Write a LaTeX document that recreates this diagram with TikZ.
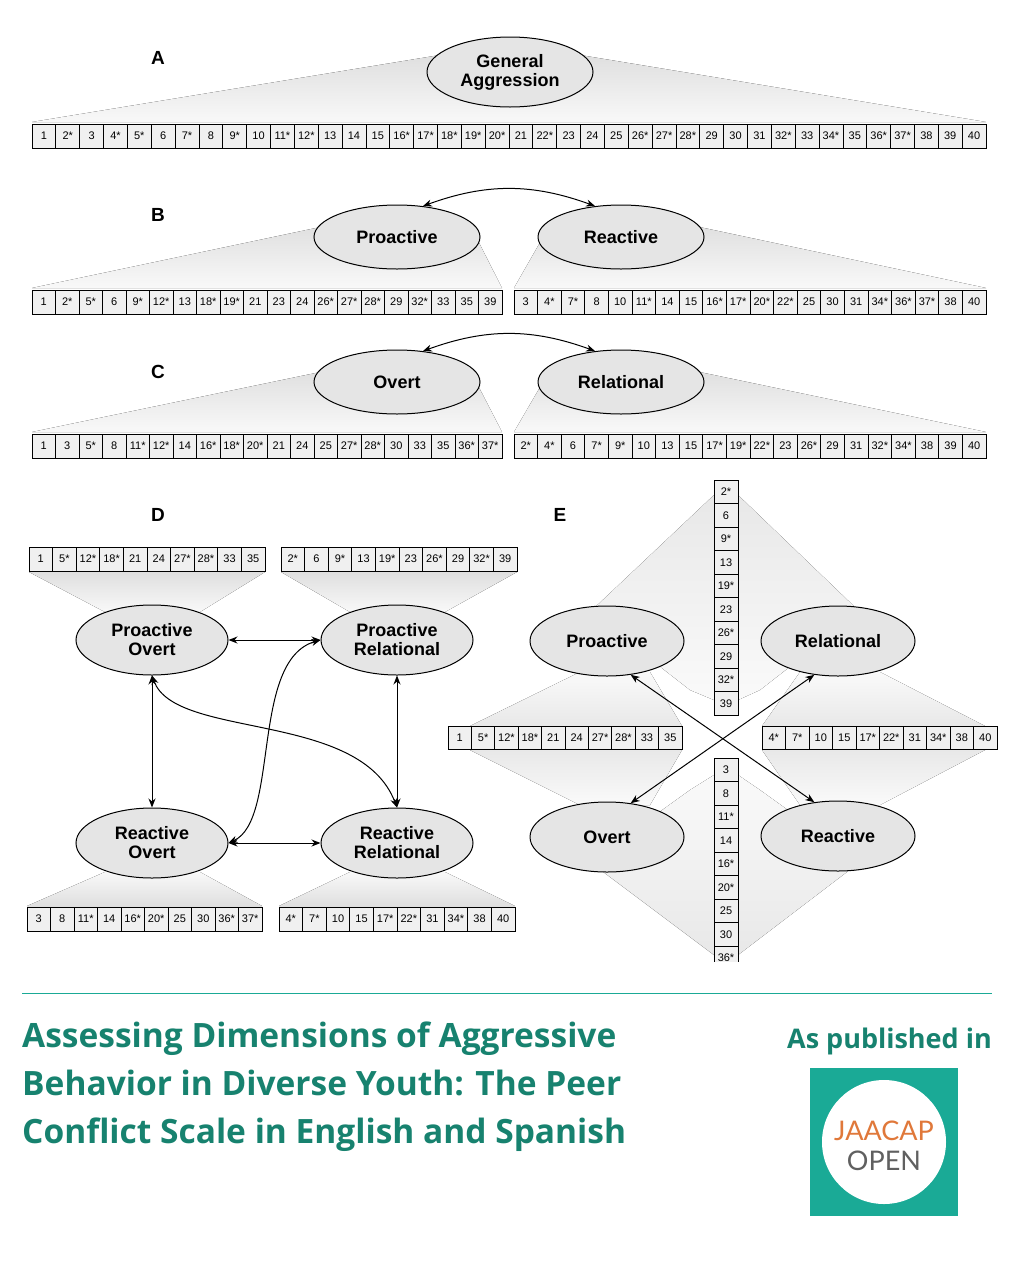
\documentclass[tikz,border=0pt]{standalone}
\usepackage{fontspec}
\setmainfont{Liberation Sans}
\newfontfamily\osb{Open Sans}
\newfontfamily\lato{Lato}
\usetikzlibrary{shapes.geometric,arrows.meta}
\definecolor{teal1}{HTML}{17826F}
\definecolor{teal2}{HTML}{1AAA96}
\definecolor{orng}{HTML}{E0783A}
\tikzset{
 cell/.style={draw=black,line width=0.8pt,fill=gray!12,inner sep=0pt,font=\fontsize{11}{11}\selectfont},
 lat/.style={ellipse,draw=black,line width=1pt,fill=gray!20,inner sep=0pt,font=\bfseries\fontsize{18}{21}\selectfont,align=center},
 fan/.style={top color=gray!25,bottom color=gray!5,draw=none},
 fanu/.style={top color=gray!5,bottom color=gray!25,draw=none},
 efan/.style={top color=gray!18,bottom color=gray!4,draw=none},
 efanu/.style={top color=gray!4,bottom color=gray!18,draw=none},
 arr/.style={line width=1pt,{Stealth[length=9pt,width=7pt]}-{Stealth[length=9pt,width=7pt]}},
 lbl/.style={font=\bfseries\fontsize{19}{19}\selectfont}
}
\newcommand\hrowx[5]{\foreach \t [count=\i from 0] in {#5}{\node[cell,minimum width=#3pt,minimum height=#4pt] at ({#1+\i*#3+#3/2},{#2+#4/2}) {\t};}}
\newcommand\vrowx[5]{\foreach \t [count=\i from 0] in {#5}{\node[cell,minimum width=#3pt,minimum height=#4pt] at ({#1+#3/2},{#2+\i*#4+#4/2}) {\t};}}
\begin{document}
\begin{tikzpicture}[x=1pt,y=-1pt]
\useasboundingbox[fill=white] (0,0) rectangle (1024,1280);
% ---------- A
\fill[fan] (440,55) -- (32,122) -- (986,122) -- (580,55) -- cycle;
\node[lat,minimum width=166pt,minimum height=70pt] (ga) at (510,72) {General\\[-2pt]Aggression};
\hrowx{32}{124}{23.85}{24}{1,2*,3,4*,5*,6,7*,8,9*,10,11*,12*,13,14,15,16*,17*,18*,19*,20*,21,22*,23,24,25,26*,27*,28*,29,30,31,32*,33,34*,35,36*,37*,38,39,40}
\node[lbl] (la) at (158,58) {A};
% ---------- B
\fill[fan] (330,225) -- (32,288) -- (502,288) -- (470,225) -- cycle;
\fill[fan] (550,225) -- (514,288) -- (986,288) -- (690,225) -- cycle;
\node[lat,minimum width=166pt,minimum height=64pt] (bp) at (397,237) {Proactive};
\node[lat,minimum width=166pt,minimum height=64pt] (br) at (621,237) {Reactive};
\draw[arr] (bp.50) to[out=20,in=160] (br.130);
\hrowx{32}{290}{23.5}{24}{1,2*,5*,6,9*,12*,13,18*,19*,21,23,24,26*,27*,28*,29,32*,33,35,39}
\hrowx{514}{290}{23.6}{24}{3,4*,7*,8,10,11*,14,15,16*,17*,20*,22*,25,30,31,34*,36*,37*,38,40}
\node[lbl] (lb) at (158,215) {B};
% ---------- C
\fill[fan] (330,370) -- (32,432) -- (502,432) -- (470,370) -- cycle;
\fill[fan] (550,370) -- (514,432) -- (986,432) -- (690,370) -- cycle;
\node[lat,minimum width=166pt,minimum height=64pt] (co) at (397,382) {Overt};
\node[lat,minimum width=166pt,minimum height=64pt] (cr) at (621,382) {Relational};
\draw[arr] (co.50) to[out=20,in=160] (cr.130);
\hrowx{32}{434}{23.5}{24}{1,3,5*,8,11*,12*,14,16*,18*,20*,21,24,25,27*,28*,30,33,35,36*,37*}
\hrowx{514}{434}{23.6}{24}{2*,4*,6,7*,9*,10,13,15,17*,19*,22*,23,26*,29,31,32*,34*,38,39,40}
\node[lbl] (lc) at (158,372) {C};
% ---------- D
\fill[fan] (29,572) -- (265,572) -- (200,612) -- (105,612) -- cycle;
\fill[fan] (281,572) -- (517,572) -- (445,612) -- (350,612) -- cycle;
\fill[fanu] (27,906) -- (262,906) -- (200,872) -- (105,872) -- cycle;
\fill[fanu] (279,906) -- (515,906) -- (445,872) -- (350,872) -- cycle;
\hrowx{29}{547}{23.6}{24}{1,5*,12*,18*,21,24,27*,28*,33,35}
\hrowx{281}{547}{23.6}{24}{2*,6,9*,13,19*,23,26*,29,32*,39}
\hrowx{27}{907}{23.5}{24}{3,8,11*,14,16*,20*,25,30,36*,37*}
\hrowx{279}{907}{23.6}{24}{4*,7*,10,15,17*,22*,31,34*,38,40}
\node[lat,minimum width=152pt,minimum height=70pt] (dpo) at (152,640) {Proactive\\[-2pt]Overt};
\node[lat,minimum width=152pt,minimum height=70pt] (dpr) at (397,640) {Proactive\\[-2pt]Relational};
\node[lat,minimum width=152pt,minimum height=70pt] (dro) at (152,843) {Reactive\\[-2pt]Overt};
\node[lat,minimum width=152pt,minimum height=70pt] (drr) at (397,843) {Reactive\\[-2pt]Relational};
\draw[arr] (dpo.east) -- (dpr.west);
\draw[arr] (dro.east) -- (drr.west);
\draw[arr] (dpo.south) -- (dro.north);
\draw[arr] (dpr.south) -- (drr.north);
\draw[arr] (dpo.south) .. controls (175,740) and (360,710) .. (drr.north);
\draw[arr] (dpr.west) .. controls (250,660) and (280,820) .. (dro.east);
\node[lbl] (ld) at (158,515) {D};
% ---------- E
\fill[efan] (714,495) -- (590,612) -- (690,690) -- (714,700) -- cycle;
\fill[efan] (738,495) -- (860,612) -- (760,690) -- (738,700) -- cycle;
\fill[efanu] (714,955) -- (590,862) -- (690,790) -- (714,775) -- cycle;
\fill[efanu] (738,955) -- (860,862) -- (760,790) -- (738,775) -- cycle;
\fill[efanu] (580,672) -- (470,726) -- (682,726) -- (650,672) -- cycle;
\fill[efan] (470,750) -- (682,750) -- (650,805) -- (580,805) -- cycle;
\fill[efanu] (800,672) -- (762,726) -- (985,726) -- (880,672) -- cycle;
\fill[efan] (762,750) -- (985,750) -- (880,805) -- (800,805) -- cycle;
\vrowx{714}{480}{24}{23.5}{2*,6,9*,13,19*,23,26*,29,32*,39}
\begin{scope}
\clip (700,750) rectangle (760,961);
\vrowx{714}{758}{24}{23.5}{3,8,11*,14,16*,20*,25,30,36*}
\end{scope}
\hrowx{448}{726}{23.4}{23.5}{1,5*,12*,18*,21,24,27*,28*,33,35}
\hrowx{762}{726}{23.5}{23.5}{4*,7*,10,15,17*,22*,31,34*,38,40}
\node[lat,minimum width=154pt,minimum height=70pt] (ep) at (607,641) {Proactive};
\node[lat,minimum width=154pt,minimum height=70pt] (erl) at (838,641) {Relational};
\node[lat,minimum width=154pt,minimum height=70pt] (eo) at (607,837) {Overt};
\node[lat,minimum width=154pt,minimum height=70pt] (ere) at (838,836) {Reactive};
\draw[arr] (ep.-55) -- (ere.125);
\draw[arr] (erl.-125) -- (eo.55);
\node[lbl] (le) at (560,515) {E};
% ---------- footer
\draw[teal2,line width=1pt] (22,993) coordinate (r1) -- (992,993) coordinate (r2);
\node[anchor=west,text=teal1,font=\osb\bfseries\fontsize{33.5}{48}\selectfont,align=left,inner sep=0pt] (title) at (22,1087)
 {Assessing Dimensions of Aggressive\\Behavior in Diverse Youth: The Peer\\Conflict Scale in English and Spanish};
\node[anchor=east,text=teal1,font=\osb\bfseries\fontsize{27}{30}\selectfont,inner sep=0pt] (pub) at (992,1041) {As published in};
\fill[teal2] (810,1068) rectangle (958,1216);
\fill[white] (884,1142) circle (62);
\node[text=orng,font=\lato\fontsize{27}{27}\selectfont,inner sep=0pt] (j) at (884,1131) {JAACAP};
\node[text=gray!75!black,font=\lato\fontsize{27}{27}\selectfont,inner sep=0pt] (o) at (884,1161) {OPEN};
\end{tikzpicture}
\end{document}
